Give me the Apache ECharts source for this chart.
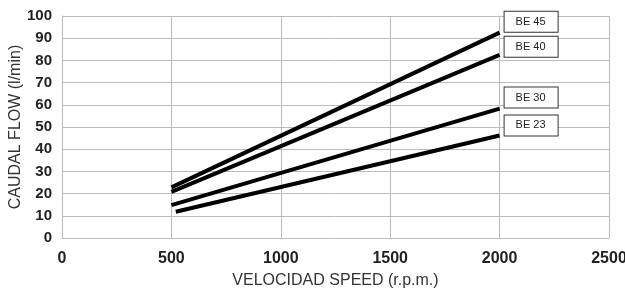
<!DOCTYPE html>
<html>
<head>
<meta charset="utf-8">
<script src="https://cdn.jsdelivr.net/npm/echarts@6/dist/echarts.min.js"></script>
<style>
  html, body { margin: 0; padding: 0; background: #fff; }
  #main { width: 625px; height: 292px; }
</style>
</head>
<body>
<div id="main"></div>
<script>
// models and their [speed, flow] end points
var models = ['BE 45', 'BE 40', 'BE 30', 'BE 23'];
var be45 = [[500, 22.8], [2000, 92.5]];
var be40 = [[500, 20.8], [2000, 82.5]];
var be30 = [[500, 14.8], [2000, 58.3]];
var be23 = [[520, 11.8], [2000, 46.2]];
var labelOffsetY = [-11, -8, -11, -10];

var FONT = 'Liberation Sans, Arial, sans-serif';
var myChart = echarts.init(document.getElementById('main'));

var seriesData = [be45, be40, be30, be23];
var series = [];
for (var i = 0; i < models.length; i++) {
    series.push({
        name: models[i],
        type: 'line',
        data: seriesData[i],
        showSymbol: false,
        silent: true,
        lineStyle: { color: '#000', width: 4 },
        endLabel: {
            show: true,
            formatter: '{a}',
            offset: [-3, labelOffsetY[i]],
            color: '#222',
            fontSize: 11,
            fontFamily: FONT,
            backgroundColor: '#fff',
            borderColor: '#333',
            borderWidth: 1,
            width: 42,
            padding: [5, 0, 4, 11]
        }
    });
}

var option = {
    animation: false,
    backgroundColor: '#fff',
    grid: { left: 62, right: 16, top: 16, bottom: 54, outerBoundsMode: 'none' },
    xAxis: {
        type: 'value',
        min: 0,
        max: 2500,
        interval: 500,
        name: 'VELOCIDAD SPEED (r.p.m.)',
        nameLocation: 'middle',
        nameGap: 35,
        nameMoveOverlap: false,
        nameTextStyle: { color: '#333', fontSize: 16, fontFamily: FONT },
        axisLine: { show: false },
        axisTick: { show: false },
        axisLabel: { color: '#222', fontSize: 16, fontWeight: 'bold', margin: 13, fontFamily: FONT,
            formatter: function (v) { return String(v); } },
        splitLine: { show: true, lineStyle: { color: '#bbb', width: 1 } }
    },
    yAxis: {
        type: 'value',
        min: 0,
        max: 100,
        interval: 10,
        name: 'CAUDAL FLOW (l/min)',
        nameLocation: 'middle',
        nameGap: 38,
        nameMoveOverlap: false,
        nameTextStyle: { color: '#333', fontSize: 16, fontFamily: FONT },
        axisLine: { show: true, lineStyle: { color: '#bbb' } },
        axisTick: { show: false },
        axisLabel: { color: '#222', fontSize: 15, fontWeight: 'bold', margin: 10, fontFamily: FONT },
        splitLine: { show: true, lineStyle: { color: '#bbb', width: 1 } }
    },
    series: series
};

myChart.setOption(option);
</script>
</body>
</html>
